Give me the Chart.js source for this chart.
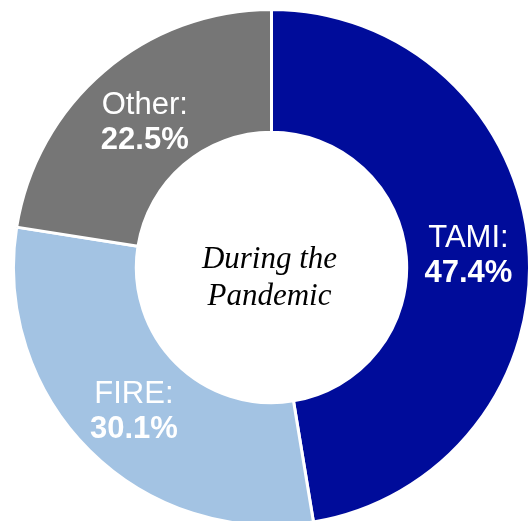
<!DOCTYPE html>
<html>
<head>
<meta charset="utf-8">
<script src="https://cdn.jsdelivr.net/npm/chart.js@4"></script>
<style>
    html, body { margin: 0; padding: 0; background: #fff; overflow: hidden; }
    #wrap { width: 532px; height: 521px; overflow: hidden; }
</style>
</head>
<body>
<div id="wrap"><canvas id="pieChart" width="532" height="530"></canvas></div>
<script>
// Share of total, during the pandemic
const labels = ["TAMI", "FIRE", "Other"];
const shares = [47.4, 30.1, 22.5];
const colors = ["#000c9a", "#a3c3e3", "#767676"];
const centerLines = ["During the", "Pandemic"];

// draws the "Name:" / "xx.x%" labels and the centre caption
const labelPlugin = {
    id: "sliceLabels",
    afterDatasetsDraw(chart) {
        const ctx = chart.ctx;
        const meta = chart.getDatasetMeta(0);
        ctx.save();
        ctx.fillStyle = "#ffffff";
        ctx.textAlign = "center";
        ctx.textBaseline = "alphabetic";
        meta.data.forEach((arc, i) => {
            const pos = arc.tooltipPosition();
            ctx.font = "31px 'Liberation Sans', Arial, sans-serif";
            ctx.fillText(labels[i] + ":", pos.x + 1, pos.y - 4);
            ctx.font = "bold 31px 'Liberation Sans', Arial, sans-serif";
            ctx.fillText(shares[i].toFixed(1) + "%", pos.x + 1, pos.y + 31);
        });

        const c = meta.data[0];
        ctx.fillStyle = "#000000";
        ctx.font = "italic 31px 'Liberation Serif', 'Times New Roman', serif";
        ctx.fillText(centerLines[0], c.x - 2, c.y);
        ctx.fillText(centerLines[1], c.x - 2, c.y + 37);
        ctx.restore();
    }
};

new Chart(document.getElementById("pieChart").getContext("2d"), {
    type: "doughnut",
    data: {
        labels: labels,
        datasets: [{
            data: shares,
            backgroundColor: colors,
            borderColor: "#ffffff",
            borderWidth: 3,
        }],
    },
    options: {
        responsive: false,
        animation: false,
        cutout: "52.4%",
        layout: { padding: { left: 12, right: 1, top: 8, bottom: 3 } },
        plugins: {
            legend: { display: false },
            tooltip: { enabled: false },
        },
    },
    plugins: [labelPlugin],
});
</script>
</body>
</html>
